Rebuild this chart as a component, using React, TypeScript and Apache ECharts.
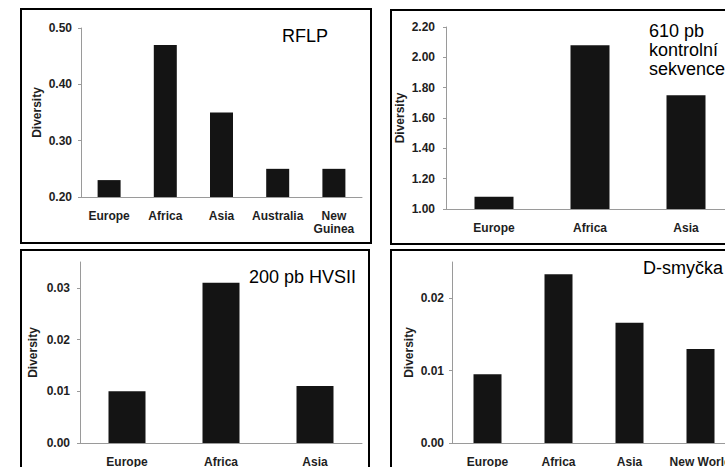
import { useEffect, useRef } from 'react';
import * as echarts from 'echarts';

// ---- data ----
const rflpCategories = ['Europe', 'Africa', 'Asia', 'Australia', 'New\nGuinea'];
const rflpValues = [0.23, 0.47, 0.35, 0.25, 0.25];
const rflpTitle = ['RFLP'];

const cr610Categories = ['Europe', 'Africa', 'Asia'];
const cr610Values = [1.08, 2.08, 1.75];
const cr610Title = ['610 pb', 'kontrolní', 'sekvence'];

const hvsiiCategories = ['Europe', 'Africa', 'Asia'];
const hvsiiValues = [0.01, 0.031, 0.011];
const hvsiiTitle = ['200 pb HVSII'];

const dloopCategories = ['Europe', 'Africa', 'Asia', 'New World'];
const dloopValues = [0.0095, 0.0233, 0.0166, 0.013];
const dloopTitle = ['D-smyčka'];

const yAxisName = 'Diversity';

const FONT = '"Liberation Sans", Arial, Helvetica, sans-serif';
const AXIS_COLOR = '#9a9a9a';
const TEXT_COLOR = '#1e1e1e';
const BAR_COLOR = '#141414';
const LABEL_SIZE = 12;

type PanelCfg = {
  grid: { left: number; top: number; width: number; height: number };
  cats: string[];
  vals: number[];
  min: number;
  max: number;
  interval: number;
  showMax: boolean;
  barWidth: number;
  nameGap: number;
  labelMargin: number;
  xLabelMargin: number;
};

const panels: PanelCfg[] = [
  { grid: { left: 81, top: 28, width: 281, height: 169 }, cats: rflpCategories, vals: rflpValues, min: 0.2, max: 0.5, interval: 0.1, showMax: true, barWidth: 23, nameGap: 38, labelMargin: 9, xLabelMargin: 12 },
  { grid: { left: 446, top: 27, width: 288, height: 182 }, cats: cr610Categories, vals: cr610Values, min: 1.0, max: 2.2, interval: 0.2, showMax: true, barWidth: 39, nameGap: 40, labelMargin: 11, xLabelMargin: 12 },
  { grid: { left: 80, top: 262, width: 282, height: 181 }, cats: hvsiiCategories, vals: hvsiiValues, min: 0, max: 0.035, interval: 0.01, showMax: false, barWidth: 37, nameGap: 41, labelMargin: 10, xLabelMargin: 12 },
  { grid: { left: 452, top: 262, width: 284, height: 181 }, cats: dloopCategories, vals: dloopValues, min: 0, max: 0.025, interval: 0.01, showMax: false, barWidth: 28, nameGap: 37, labelMargin: 8, xLabelMargin: 12 },
];

function titleText(lines: string[], x: number, y0: number, step: number) {
  return lines.map((t, i) => ({
    type: 'text',
    x,
    y: y0 + i * step,
    silent: true,
    style: {
      text: t,
      fill: '#000',
      fontSize: 18,
      fontFamily: FONT,
      align: 'left',
      verticalAlign: 'middle',
    },
  }));
}

function border(x: number, y: number, w: number, h: number) {
  return {
    type: 'rect',
    silent: true,
    z: 100,
    shape: { x, y, width: w, height: h },
    style: { fill: 'none', stroke: '#000', lineWidth: 2 },
  };
}

export default function App() {
  const ref = useRef<HTMLDivElement>(null);
  useEffect(() => {
    if (!ref.current) return;
    const chart = echarts.init(ref.current, undefined, { renderer: 'svg' });
    const option: any = {
      animation: false,
      backgroundColor: '#ffffff',
      grid: panels.map((p) => ({ ...p.grid, containLabel: false, outerBoundsMode: 'none' })),
      xAxis: panels.map((p, i) => ({
        type: 'category',
        gridIndex: i,
        data: p.cats,
        axisLine: { show: true, lineStyle: { color: AXIS_COLOR, width: 1 } },
        axisTick: { show: false },
        splitLine: { show: false },
        axisLabel: {
          interval: 0,
          margin: p.xLabelMargin,
          color: TEXT_COLOR,
          fontFamily: FONT,
          fontSize: LABEL_SIZE,
          fontWeight: 'bold',
          lineHeight: 13,
        },
      })),
      yAxis: panels.map((p, i) => ({
        type: 'value',
        gridIndex: i,
        min: p.min,
        max: p.max,
        interval: p.interval,
        name: yAxisName,
        nameLocation: 'middle',
        nameRotate: 90,
        nameGap: p.nameGap,
        nameTextStyle: { color: TEXT_COLOR, fontFamily: FONT, fontSize: LABEL_SIZE, fontWeight: 'bold' },
        axisLine: { show: true, lineStyle: { color: AXIS_COLOR, width: 1 } },
        axisTick: { show: true, inside: false, length: 3, lineStyle: { color: AXIS_COLOR } },
        splitLine: { show: false },
        axisLabel: {
          showMaxLabel: p.showMax,
          showMinLabel: true,
          margin: p.labelMargin,
          color: TEXT_COLOR,
          fontFamily: FONT,
          fontSize: LABEL_SIZE,
          fontWeight: 'bold',
          formatter: (v: number) => v.toFixed(2),
        },
      })),
      series: panels.map((p, i) => ({
        type: 'bar',
        xAxisIndex: i,
        yAxisIndex: i,
        data: p.vals,
        barWidth: p.barWidth,
        itemStyle: { color: BAR_COLOR },
        silent: true,
      })),
      graphic: [
        border(21, 9, 350, 234),
        border(391, 10, 400, 234),
        border(21, 250, 348, 260),
        border(391, 250, 400, 260),
        ...titleText(rflpTitle, 282, 36, 0),
        ...titleText(cr610Title, 649, 31, 19),
        ...titleText(hvsiiTitle, 249, 276.5, 0),
        ...titleText(dloopTitle, 643, 268, 0),
      ],
    };
    chart.setOption(option);
    return () => chart.dispose();
  }, []);
  return (
    <div
      ref={ref}
      style={{ position: 'absolute', left: 0, top: 0, width: 725, height: 467 }}
    />
  );
}
